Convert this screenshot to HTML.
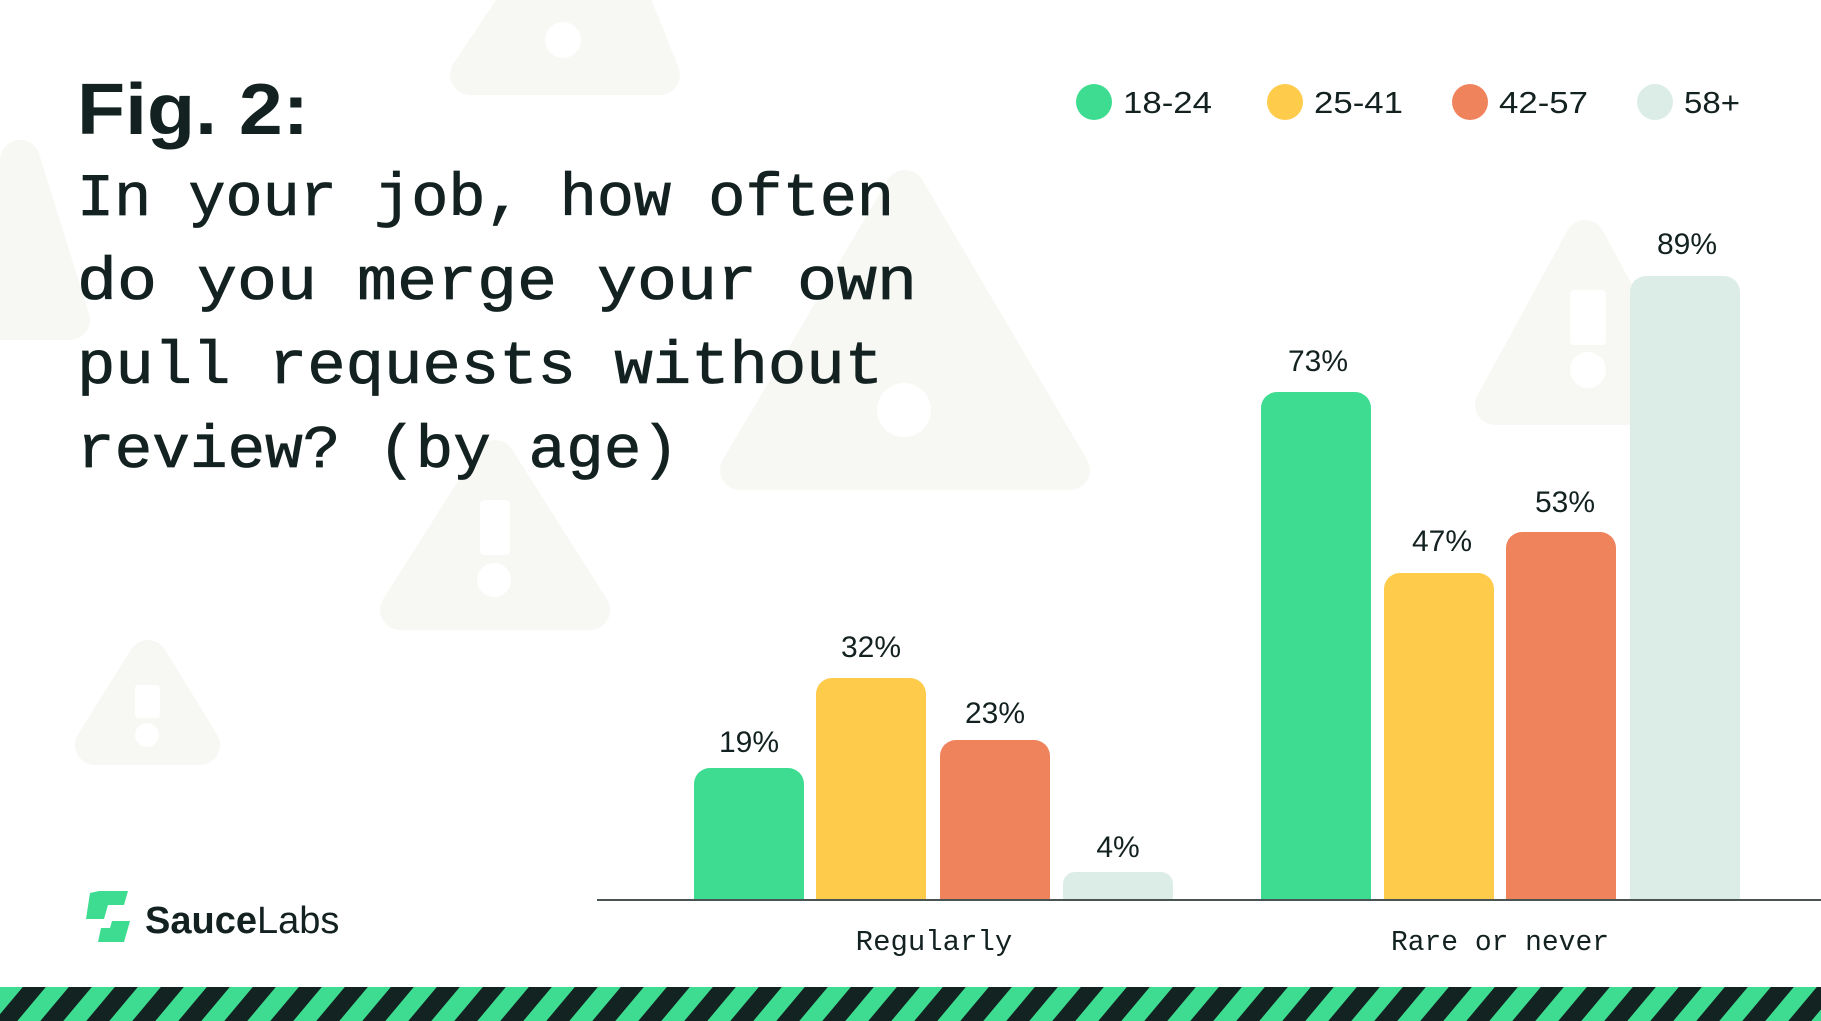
<!DOCTYPE html>
<html><head><meta charset="utf-8"><style>
html,body{margin:0;padding:0;background:#fff;}
svg{display:block}
</style></head><body>
<svg width="1821" height="1021" viewBox="0 0 1821 1021" xmlns="http://www.w3.org/2000/svg">
<defs>
<pattern id="st" width="46" height="40" patternUnits="userSpaceOnUse" patternTransform="skewX(-40)">
<rect width="46" height="40" fill="#132321"/><rect width="23" height="40" fill="#3ddc91"/>
</pattern>
</defs>
<rect width="1821" height="1021" fill="#fff"/>
<g fill="#f7f7f4" stroke="#f7f7f4" stroke-linejoin="round" stroke-width="40">
<polygon points="470,75 520,0 630,0 660,75"/>
<polygon points="740,470 905,190 1070,470"/>
<polygon points="400,610 495,460 590,610"/>
<polygon points="95,745 148,660 200,745"/>
<polygon points="1495,405 1585,240 1675,405"/>
<polygon points="0,320 20,160 70,320"/>
</g>
<g fill="#fff">
<rect x="480" y="500" width="30" height="55" rx="4"/><circle cx="494" cy="580" r="17"/>
<rect x="135" y="685" width="25" height="33" rx="3"/><circle cx="147" cy="735" r="12"/>
<rect x="1570" y="290" width="36" height="55" rx="4"/><circle cx="1588" cy="370" r="18"/>
<circle cx="904" cy="410" r="27"/>
<circle cx="563" cy="40" r="18"/>
</g>
<text x="77" y="134" font-family="Liberation Sans, sans-serif" font-weight="bold" font-size="72" fill="#132220" textLength="232" lengthAdjust="spacingAndGlyphs">Fig. 2:</text>
<g font-family="Liberation Mono, monospace" font-size="60" fill="#132220" stroke="#132220" stroke-width="0.8">
<text x="77" y="215" textLength="817" lengthAdjust="spacingAndGlyphs">In your job, how often</text>
<text x="77" y="299" textLength="840" lengthAdjust="spacingAndGlyphs">do you merge your own</text>
<text x="77" y="383" textLength="806" lengthAdjust="spacingAndGlyphs">pull requests without</text>
<text x="77" y="467" textLength="602" lengthAdjust="spacingAndGlyphs">review? (by age)</text>
</g>
<g font-family="Liberation Sans, sans-serif" font-size="31" fill="#132220">
<circle cx="1094" cy="102" r="18" fill="#3ddc91"/><text x="1123" y="113" textLength="89" lengthAdjust="spacingAndGlyphs">18-24</text>
<circle cx="1285" cy="102" r="18" fill="#fecb4b"/><text x="1314" y="113" textLength="89" lengthAdjust="spacingAndGlyphs">25-41</text>
<circle cx="1470" cy="102" r="18" fill="#ef835c"/><text x="1499" y="113" textLength="89" lengthAdjust="spacingAndGlyphs">42-57</text>
<circle cx="1655" cy="102" r="18" fill="#dcede8"/><text x="1684" y="113" textLength="56" lengthAdjust="spacingAndGlyphs">58+</text>
</g>
<g>
<path d="M694,900 V784 a16,16 0 0 1 16,-16 H788 a16,16 0 0 1 16,16 V900Z" fill="#3ddc91"/>
<path d="M816,900 V694 a16,16 0 0 1 16,-16 H910 a16,16 0 0 1 16,16 V900Z" fill="#fecb4b"/>
<path d="M940,900 V756 a16,16 0 0 1 16,-16 H1034 a16,16 0 0 1 16,16 V900Z" fill="#ef835c"/>
<path d="M1063,900 V884 a12,12 0 0 1 12,-12 H1161 a12,12 0 0 1 12,12 V900Z" fill="#dcede8"/>
<path d="M1261,900 V408 a16,16 0 0 1 16,-16 H1355 a16,16 0 0 1 16,16 V900Z" fill="#3ddc91"/>
<path d="M1384,900 V589 a16,16 0 0 1 16,-16 H1478 a16,16 0 0 1 16,16 V900Z" fill="#fecb4b"/>
<path d="M1506,900 V548 a16,16 0 0 1 16,-16 H1600 a16,16 0 0 1 16,16 V900Z" fill="#ef835c"/>
<path d="M1630,900 V292 a16,16 0 0 1 16,-16 H1724 a16,16 0 0 1 16,16 V900Z" fill="#dcede8"/>
</g>
<g font-family="Liberation Sans, sans-serif" font-size="30" fill="#132220" text-anchor="middle">
<text x="749" y="752">19%</text>
<text x="871" y="657">32%</text>
<text x="995" y="723">23%</text>
<text x="1118" y="857">4%</text>
<text x="1318" y="371">73%</text>
<text x="1442" y="551">47%</text>
<text x="1565" y="512">53%</text>
<text x="1687" y="254">89%</text>
</g>
<line x1="597" y1="900" x2="1821" y2="900" stroke="#4a5553" stroke-width="2"/>
<g font-family="Liberation Mono, monospace" font-size="29" fill="#132220" text-anchor="middle">
<text x="934" y="950">Regularly</text>
<text x="1500" y="950" textLength="218" lengthAdjust="spacingAndGlyphs">Rare or never</text>
</g>
<g fill="#3ddc91">
<path d="M90,893 L99,891 L106,891 L128,891 L124,905 L108,905 L104,919 L86,919 Z"/>
<path d="M112,921 L130,921 L124,942 L98,942 L101,928 L110,928 Z"/>
</g>
<text x="145" y="933" font-family="Liberation Sans, sans-serif" font-size="38" fill="#132220"><tspan font-weight="bold">Sauce</tspan>Labs</text>
<rect x="0" y="987" width="1821" height="34" fill="url(#st)"/>
</svg>
</body></html>
